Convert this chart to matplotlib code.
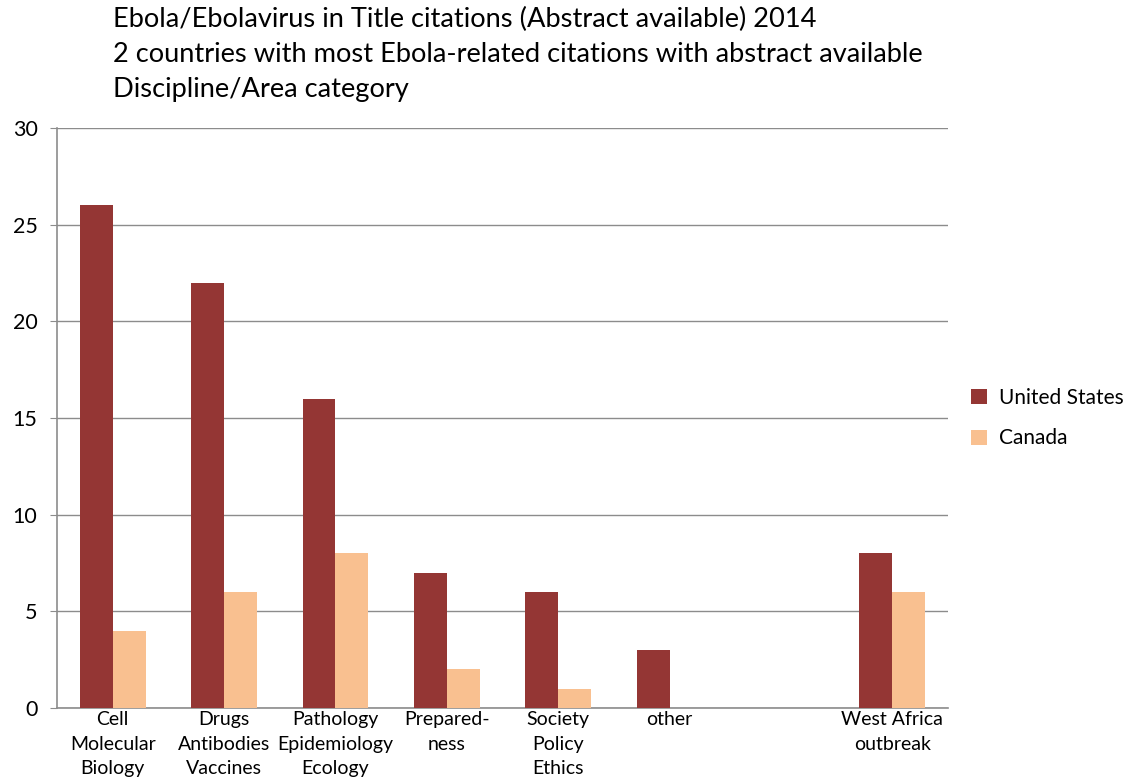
import numpy as np
import matplotlib.pyplot as plt

plt.rcParams['font.family'] = ['Lato', 'DejaVu Sans']

categories = ['Cell\nMolecular\nBiology', 'Drugs\nAntibodies\nVaccines',
              'Pathology\nEpidemiology\nEcology', 'Prepared-\nness',
              'Society\nPolicy\nEthics', 'other', '', 'West Africa\noutbreak']
us_values = [26, 22, 16, 7, 6, 3, 0, 8]
canada_values = [4, 6, 8, 2, 1, 0, 0, 6]

us_color = '#943634'
ca_color = '#F9C090'
grid_color = '#8C8C8C'

fig = plt.figure(figsize=(11.26, 7.82), dpi=100)
ax = fig.add_axes([0.0506, 0.0946, 0.7913, 0.7417])

x = np.arange(len(categories))
w = 0.295
ax.bar(x - w / 2, us_values, w, color=us_color, label='United States', zorder=3)
ax.bar(x + w / 2, canada_values, w, color=ca_color, label='Canada', zorder=3)

ax.set_xlim(-0.5, len(categories) - 0.5)
ax.set_ylim(0, 30)
ax.set_yticks(range(0, 31, 5))
ax.set_xticks(x)
ax.set_xticklabels(categories, fontsize=14, linespacing=1.55)
ax.tick_params(axis='x', length=0, pad=2)
ax.tick_params(axis='y', labelsize=15.5, length=5, color=grid_color, pad=9)
ax.yaxis.grid(True, color=grid_color, linewidth=1, zorder=0)
for s in ['top', 'right']:
    ax.spines[s].set_visible(False)
for s in ['left', 'bottom']:
    ax.spines[s].set_color(grid_color)
    ax.spines[s].set_linewidth(1.2)

ax.legend(loc='center left', bbox_to_anchor=(1.005, 0.50), frameon=False,
          fontsize=15, handlelength=0.75, handleheight=0.75, labelspacing=1.0,
          handletextpad=0.6)

title_lines = ['Ebola/Ebolavirus in Title citations (Abstract available) 2014',
               '2 countries with most Ebola-related citations with abstract available',
               'Discipline/Area category']
for i, t in enumerate(title_lines):
    fig.text(0.1, 1 - (19 + 35 * i) / 782, t, fontsize=19.6, va='center', ha='left')

fig.savefig('out.png', dpi=100)
